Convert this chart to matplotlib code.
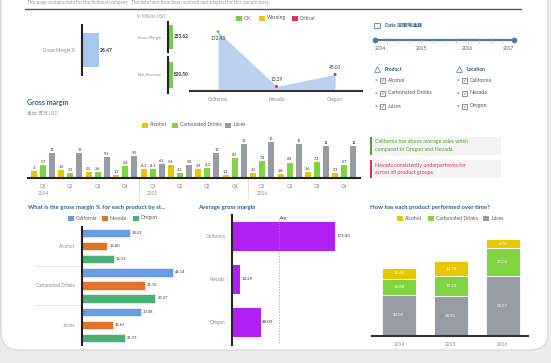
import numpy as np
import matplotlib
matplotlib.use("Agg")
import matplotlib.pyplot as plt
from matplotlib.patches import FancyBboxPatch, Rectangle

plt.rcParams['font.family'] = ['Lato', 'Noto Sans CJK SC', 'DejaVu Sans']

W, H = 551, 363

# --- data ---
kpi_pct = 28.47
kpi_gross_margin = 233.62
kpi_net_revenue = 820.50

states = ["California", "Nevada", "Oregon"]
state_margin = [172.43, 13.29, 48.00]
state_status = ["OK", "Critical", "Critical"]

quarters = ["Q1", "Q2", "Q3", "Q4"] * 3
years = ["2014", "2015", "2016"]
gm_alcohol = [3, 3.6, 2.5, 1.3, 4.1, 5.6, 3.9, 1.2, 2.3, 1.8, 2.6, 2.1]
gm_carb = [5.7, 2.2, 2.6, 5.4, 4.1, 2.2, 4.2, 8.7, 7.4, 6.8, 7.2, 5.7]
gm_juices = [11, 11, 9.1, 9.5, 6.1, 5.8, 11, 15, 16, 15, 14, 14]

products = ["Alcohol", "Carbonated Drinks", "Juices"]
pct_california = [24.52, 46.14, 30.08]
pct_nevada = [12.80, 31.76, 15.63]
pct_oregon = [16.13, 37.27, 21.73]

yr_alcohol = [10.48, 14.78, 8.76]
yr_carb = [15.88, 19.12, 27.00]
yr_juices = [40.02, 38.91, 58.57]

slider_years = ["2014", "2015", "2016", "2017"]

# --- colours ---
C_ALC, C_CARB, C_JUI = "#e6c800", "#80d443", "#979ca4"
C_CA, C_NV, C_OR = "#6b9be2", "#e07229", "#4bae74"
C_PURPLE = "#b020f2"
C_TITLE = "#2f5f8c"
C_TICK = "#8a8a8a"
C_VAL = "#333333"
STATUS = {"OK": "#6fcf45", "Warning": "#f0c419", "Critical": "#e6335e"}

fig = plt.figure(figsize=(W / 100, H / 100), dpi=100, facecolor="#ececec")

# background axes in pixel coords (y down)
bg = fig.add_axes([0, 0, 1, 1])
bg.set_xlim(0, W)
bg.set_ylim(H, 0)
bg.axis("off")
bg.add_patch(FancyBboxPatch((1, -40), 547, 390, boxstyle="round,pad=0,rounding_size=18",
                            fc="white", ec="#d6d6d6", lw=0.8))


def add_ax(x0, y0, x1, y1):
    a = fig.add_axes([x0 / W, 1 - y1 / H, (x1 - x0) / W, (y1 - y0) / H])
    a.patch.set_alpha(0)
    for s in a.spines.values():
        s.set_visible(False)
    a.tick_params(length=0)
    return a


def show_spine(a, side, color="#222"):
    a.spines[side].set_visible(True)
    a.spines[side].set_linewidth(1.5)
    a.spines[side].set_color(color)


def legend_row(y, items, fs=3.6):
    for lx, lab, col in items:
        bg.add_patch(Rectangle((lx, y - 2.5), 6, 5, fc=col, ec="none"))
        bg.text(lx + 8, y, lab, fontsize=fs, color="#555", va="center")


# header
bg.text(27, 2.5, "This page contains data for the fictional company . The data here have been sourced and adapted for this sample story.",
        fontsize=3.3, color="#9a9a9a", va="center")
bg.plot([25, 521], [9, 9], color="#555", lw=1)

# --- KPI: gross margin % ---
ax = add_ax(82, 25, 140, 75)
ax.barh([0], [kpi_pct], height=0.66, color="#a9c6ee")
ax.set_xlim(0, 100)
ax.set_ylim(-0.5, 0.5)
show_spine(ax, "left")
ax.set_xticks([])
ax.set_yticks([0])
ax.set_yticklabels(["Gross Margin %"], fontsize=3.3, color=C_TICK)
ax.tick_params(axis="y", pad=5)
ax.text(kpi_pct + 2, 0, f"{kpi_pct:.2f}", fontsize=3.6, color=C_VAL, va="center", fontweight="bold")

bg.text(137, 17, "In Million USD", fontsize=3.4, color="#999", style="italic", va="center")
for (y0, y1, lab, val, lim, hgt) in [(22, 52, "Gross Margin", kpi_gross_margin, 1500, 0.77),
                                     (57, 93, "Net Revenue", kpi_net_revenue, 5250, 0.72)]:
    ax = add_ax(168, y0, 200, y1)
    ax.barh([0], [val], height=hgt, color="#72d04a")
    ax.set_xlim(0, lim)
    ax.set_ylim(-0.5, 0.5)
    show_spine(ax, "left")
    ax.set_xticks([])
    ax.set_yticks([0])
    ax.set_yticklabels([lab], fontsize=3.0, color=C_TICK)
    ax.tick_params(axis="y", pad=5)
    ax.text(val + lim * 0.03, 0, f"{val:.2f}", fontsize=3.4, color=C_VAL, va="center", fontweight="bold")

# --- area chart by state ---
ax = add_ax(190, 22, 362, 91)
xs = np.arange(len(states))
ax.fill_between(xs, state_margin, color="#bcd1f0", lw=0)
ax.scatter(xs, state_margin, c=[STATUS[s] for s in state_status], s=5, zorder=3, lw=0)
top = max(state_margin)
for xi, v in zip(xs, state_margin):
    dy = -3 if v == top else 3
    ax.annotate(f"{v:.2f}", (xi, v), xytext=(0, dy), textcoords="offset points",
                ha="center", va="top" if v == top else "bottom", fontsize=3.4, color=C_VAL)
ax.set_xlim(-0.48, 2.46)
ax.set_ylim(0, 200)
show_spine(ax, "bottom", "#333")
ax.set_yticks([])
ax.set_xticks(xs)
ax.set_xticklabels(states, fontsize=3.4, color=C_TICK)
ax.tick_params(axis="x", pad=4)
legend_row(18, [(236, "OK", STATUS["OK"]), (259, "Warning", STATUS["Warning"]),
                (292, "Critical", STATUS["Critical"])])

# --- filters panel ---
bg.add_patch(Rectangle((374, 22.5), 6, 5, fc="none", ec="#4a7bb0", lw=0.6))
bg.text(385, 25, "Date 范围筛选器", fontsize=3.6, color=C_TITLE, fontweight="bold", va="center")
bg.plot([375, 514], [40, 40], color="#4a78aa", lw=1.6, solid_capstyle="round")
for tx in np.linspace(375, 514, 13):
    bg.plot([tx, tx], [37.5, 42.5], color="#b5b5b5", lw=0.4)
bg.plot([375, 514], [40, 40], "o", color="#4a78aa", ms=3)
for i, yl in enumerate(slider_years):
    ha = "left" if i == 0 else ("right" if i == len(slider_years) - 1 else "center")
    bg.text(375 + i * 139 / 3, 48.5, yl, fontsize=3.4, color="#555", ha=ha, va="center")

for hx, head, items in [(373, "Product", products), (455, "Location", states)]:
    bg.plot([hx + 4], [69], marker="^", ms=4.5, mfc="none", mec="#4a7bb0", mew=0.5)
    bg.text(hx + 12, 69.5, head, fontsize=3.6, color=C_TITLE, fontweight="bold", va="center")
    for k, it in enumerate(items):
        yy = 80 + k * 13
        bg.text(hx + 1, yy, ">", fontsize=3.6, color="#4a6a90", va="center", fontweight="bold")
        bg.add_patch(Rectangle((hx + 6.5, yy - 2.5), 5, 5, fc="white", ec="#666", lw=0.5))
        bg.text(hx + 9, yy, "✓", fontsize=3.6, color="#4a6a90", va="center", ha="center",
                family="DejaVu Sans")
        bg.text(hx + 15, yy, it, fontsize=3.8, color="#555", va="center")

# --- insight boxes ---
for y0, col, lines in [(137, "#4aa52e", ["California has above average sales when",
                                          "compared to Oregon and Nevada."]),
                       (160, "#df2f62", ["Nevada consistently underperforms for",
                                         "across all product groups."])]:
    bg.add_patch(Rectangle((370, y0), 131, 18, fc="#f4f4f4", ec="none"))
    bg.add_patch(Rectangle((370, y0), 1.5, 18, fc=col, ec="none"))
    for j, ln in enumerate(lines):
        bg.text(375, y0 + 5 + j * 7.5, ln, fontsize=3.8, color=col, va="center")

# --- gross margin by quarter ---
bg.text(27, 103, "Gross margin", fontsize=5, color=C_TITLE, fontweight="bold", va="center")
bg.text(27, 113, "单位: 百万 USD", fontsize=3.3, color="#999", style="italic", va="center")
legend_row(125, [(142, "Alcohol", C_ALC), (172, "Carbonated Drinks", C_CARB), (225, "Juices", C_JUI)])

ax = add_ax(28, 128, 360, 178)
xq = np.arange(len(quarters))
for vals, col, dx in [(gm_alcohol, C_ALC, -0.33), (gm_carb, C_CARB, 0.0), (gm_juices, C_JUI, 0.33)]:
    ax.bar(xq + dx, vals, 0.22, color=col)
    for xi, v in zip(xq + dx, vals):
        ax.text(xi, v + 0.5, f"{v:g}", ha="center", va="bottom", fontsize=2.8, color=C_VAL)
ax.set_xlim(-0.547, 11.57)
ax.set_ylim(0, 22)
show_spine(ax, "bottom")
ax.set_yticks([])
ax.set_xticks(xq)
ax.set_xticklabels(quarters, fontsize=3.4, color=C_TICK)
ax.tick_params(axis="x", pad=4)
tr = ax.get_xaxis_transform()
for i, yl in enumerate(years):
    ax.text(i * 4, -0.3, yl, transform=tr, fontsize=3.4, color=C_TICK, ha="center", va="center")
    if i > 0:
        ax.plot([i * 4 - 0.5] * 2, [0, -0.4], transform=tr, color="#dddddd", lw=0.6, clip_on=False)

# --- gross margin % by product and state ---
bg.text(28, 207, "What is the gross margin % for each product by st...", fontsize=4.3,
        color=C_TITLE, fontweight="bold", va="center")
legend_row(218, [(68, "California", C_CA), (102, "Nevada", C_NV), (133, "Oregon", C_OR)])
ax = add_ax(82, 227, 185, 345)
g = np.arange(len(products)) * 3.04
for k, (vals, col) in enumerate([(pct_california, C_CA), (pct_nevada, C_NV), (pct_oregon, C_OR)]):
    yy = g + (k - 1) * 1.0
    ax.barh(yy, vals, height=0.62, color=col, edgecolor="white", lw=0.4)
    for yi, v in zip(yy, vals):
        ax.text(v + 1, yi, f"{v:.2f}", fontsize=2.9, color=C_VAL, va="center")
ax.set_ylim(7.62, -1.46)
ax.set_xlim(0, 52.3)
show_spine(ax, "left")
ax.set_xticks([])
ax.set_yticks(g)
ax.set_yticklabels(products, fontsize=3.3, color=C_TICK)
ax.tick_params(axis="y", pad=5)
ytr = ax.get_yaxis_transform()
for yi in g[:-1]:
    ax.plot([-0.456, 0], [yi + 1.52] * 2, transform=ytr, color="#e2e2e2", lw=0.6, clip_on=False)

# --- average gross margin ---
bg.text(198, 207, "Average gross margin", fontsize=4.3, color=C_TITLE, fontweight="bold", va="center")
ax = add_ax(232, 215, 360, 345)
ys = np.arange(len(states))
ax.barh(ys, state_margin, height=0.67, color=C_PURPLE)
for yi, v in zip(ys, state_margin):
    ax.text(v + 2.5, yi, f"{v:.2f}", fontsize=3.2, color=C_VAL, va="center")
avg = np.mean(state_margin)
ax.axvline(avg, ymin=0.015, ymax=0.985, color="#999", lw=0.5, ls=(0, (2, 2)))
ax.text(avg + 1.5, 0.975, "Avg", transform=ax.get_xaxis_transform(), fontsize=3.0, color="#333", va="center")
ax.set_ylim(2.53, -0.49)
ax.set_xlim(0, 214)
show_spine(ax, "left")
ax.set_xticks([])
ax.set_yticks(ys)
ax.set_yticklabels(states, fontsize=3.3, color=C_TICK)
ax.tick_params(axis="y", pad=5)

# --- product performance over time ---
bg.text(370, 207, "How has each product performed over time?", fontsize=4.3, color=C_TITLE,
        fontweight="bold", va="center")
legend_row(218, [(397, "Alcohol", C_ALC), (428, "Carbonated Drinks", C_CARB), (483, "Juices", C_JUI)])
ax = add_ax(372, 215, 528, 336)
xy = np.arange(len(years))
bottom = np.zeros(len(years))
for vals, col in [(yr_juices, C_JUI), (yr_carb, C_CARB), (yr_alcohol, C_ALC)]:
    vals = np.array(vals)
    ax.bar(xy, vals, 0.66, bottom=bottom, color=col, edgecolor="white", lw=0.6)
    for xi, b, v in zip(xy, bottom, vals):
        ax.text(xi, b + v / 2, f"{v:.2f}", ha="center", va="center", fontsize=3.2, color="white")
    bottom = bottom + vals
ax.set_xlim(-0.52, 2.49)
ax.set_ylim(0, 117.7)
show_spine(ax, "bottom", "#333")
ax.set_yticks([])
ax.set_xticks(xy)
ax.set_xticklabels(years, fontsize=3.4, color=C_TICK)
ax.tick_params(axis="x", pad=4)

fig.savefig("out.png", dpi=100, facecolor=fig.get_facecolor())
